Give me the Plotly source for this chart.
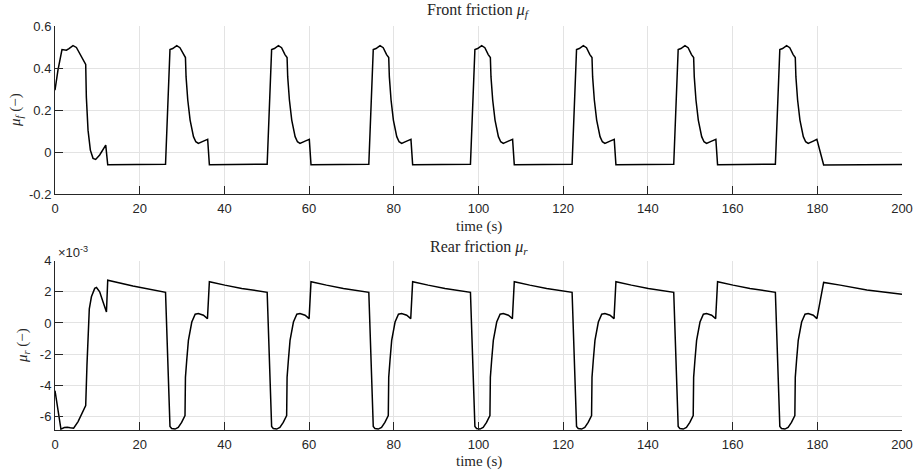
import plotly.graph_objects as go

# ---------------- data ----------------
# Front friction mu_f (-)
t_front = [
    0, 0.7, 1.65, 2.7, 3.3, 4.25, 5.05, 6.2, 7.25, 7.4, 7.8, 8.35, 8.98, 9.6, 10.55, 11.98, 12.45,
    26.1, 27.15, 27.8, 28.75, 29.5, 30.3, 30.8, 30.95, 31.35, 31.9, 32.7, 33.25, 33.85, 35.05, 36.05, 36.45,
    50.1, 51.15, 51.8, 52.75, 53.5, 54.3, 54.8, 54.95, 55.35, 55.9, 56.7, 57.25, 57.85, 59.05, 60.05, 60.45,
    74.1, 75.15, 75.8, 76.75, 77.5, 78.3, 78.8, 78.95, 79.35, 79.9, 80.7, 81.25, 81.85, 83.05, 84.05, 84.45,
    98.1, 99.15, 99.8, 100.75, 101.5, 102.3, 102.8, 102.95, 103.35, 103.9, 104.7, 105.25, 105.85, 107.05, 108.05, 108.45,
    122.1, 123.15, 123.8, 124.75, 125.5, 126.3, 126.8, 126.95, 127.35, 127.9, 128.7, 129.25, 129.85, 131.05, 132.05, 132.45,
    146.1, 147.15, 147.8, 148.75, 149.5, 150.3, 150.8, 150.95, 151.35, 151.9, 152.7, 153.25, 153.85, 155.05, 156.05, 156.45,
    170.1, 171.15, 171.8, 172.75, 173.5, 174.3, 174.8, 174.95, 175.35, 175.9, 176.7, 177.25, 177.85, 179.05, 179.9, 181.5,
    200,
]
mu_f = [
    0.295, 0.39, 0.488, 0.485, 0.493, 0.507, 0.498, 0.453, 0.417, 0.263, 0.105, 0.01, -0.029, -0.034, -0.013, 0.034, -0.06,
    -0.057, 0.488, 0.493, 0.507, 0.497, 0.464, 0.45, 0.358, 0.248, 0.153, 0.074, 0.05, 0.042, 0.053, 0.061, -0.06,
    -0.057, 0.488, 0.493, 0.507, 0.497, 0.464, 0.45, 0.358, 0.248, 0.153, 0.074, 0.05, 0.042, 0.053, 0.061, -0.06,
    -0.057, 0.488, 0.493, 0.507, 0.497, 0.464, 0.45, 0.358, 0.248, 0.153, 0.074, 0.05, 0.042, 0.053, 0.061, -0.06,
    -0.057, 0.488, 0.493, 0.507, 0.497, 0.464, 0.45, 0.358, 0.248, 0.153, 0.074, 0.05, 0.042, 0.053, 0.061, -0.06,
    -0.057, 0.488, 0.493, 0.507, 0.497, 0.464, 0.45, 0.358, 0.248, 0.153, 0.074, 0.05, 0.042, 0.053, 0.061, -0.06,
    -0.057, 0.488, 0.493, 0.507, 0.497, 0.464, 0.45, 0.358, 0.248, 0.153, 0.074, 0.05, 0.042, 0.053, 0.061, -0.06,
    -0.057, 0.488, 0.493, 0.507, 0.497, 0.464, 0.45, 0.358, 0.248, 0.153, 0.074, 0.05, 0.042, 0.053, 0.061, -0.061,
    -0.058,
]

# Rear friction mu_r (x 1e-3)
t_rear = [
    0, 1.4, 2.2, 2.9, 3.6, 4.4, 5.45, 6.6, 7.25, 7.55, 7.8, 8.1, 8.6, 9.38, 9.8, 10.55, 11.35, 12.15, 12.45, 18.4,
    26.1, 27.15, 27.55, 28.35, 29.1, 29.9, 30.7, 30.8, 31.1, 31.5, 32.3, 33.1, 33.85, 35.05, 36.0, 36.45, 40.1, 44.1,
    50.1, 51.15, 51.55, 52.35, 53.1, 53.9, 54.7, 54.8, 55.1, 55.5, 56.3, 57.1, 57.85, 59.05, 60.0, 60.45, 64.1, 68.1,
    74.1, 75.15, 75.55, 76.35, 77.1, 77.9, 78.7, 78.8, 79.1, 79.5, 80.3, 81.1, 81.85, 83.05, 84.0, 84.45, 88.1, 92.1,
    98.1, 99.15, 99.55, 100.35, 101.1, 101.9, 102.7, 102.8, 103.1, 103.5, 104.3, 105.1, 105.85, 107.05, 108.0, 108.45, 112.1, 116.1,
    122.1, 123.15, 123.55, 124.35, 125.1, 125.9, 126.7, 126.8, 127.1, 127.5, 128.3, 129.1, 129.85, 131.05, 132.0, 132.45, 136.1, 140.1,
    146.1, 147.15, 147.55, 148.35, 149.1, 149.9, 150.7, 150.8, 151.1, 151.5, 152.3, 153.1, 153.85, 155.05, 156.0, 156.45, 160.1, 164.1,
    170.1, 171.15, 171.55, 172.35, 173.1, 173.9, 174.7, 174.8, 175.1, 175.5, 176.3, 177.1, 177.85, 179.05, 179.9, 181.5, 185.4, 191.7,
    200,
]
mu_r = [
    -4.35, -6.82, -6.72, -6.7, -6.74, -6.77, -6.34, -5.74, -5.31, -2.7, -0.5, 0.9, 1.68, 2.22, 2.28, 2.0, 1.35, 0.71, 2.75, 2.37,
    1.97, -6.65, -6.78, -6.82, -6.71, -6.39, -5.95, -3.5, -2.41, -1.12, 0.06, 0.56, 0.6, 0.5, 0.28, 2.65, 2.43, 2.22,
    1.97, -6.65, -6.78, -6.82, -6.71, -6.39, -5.95, -3.5, -2.41, -1.12, 0.06, 0.56, 0.6, 0.5, 0.28, 2.65, 2.43, 2.22,
    1.97, -6.65, -6.78, -6.82, -6.71, -6.39, -5.95, -3.5, -2.41, -1.12, 0.06, 0.56, 0.6, 0.5, 0.28, 2.65, 2.43, 2.22,
    1.97, -6.65, -6.78, -6.82, -6.71, -6.39, -5.95, -3.5, -2.41, -1.12, 0.06, 0.56, 0.6, 0.5, 0.28, 2.65, 2.43, 2.22,
    1.97, -6.65, -6.78, -6.82, -6.71, -6.39, -5.95, -3.5, -2.41, -1.12, 0.06, 0.56, 0.6, 0.5, 0.28, 2.65, 2.43, 2.22,
    1.97, -6.65, -6.78, -6.82, -6.71, -6.39, -5.95, -3.5, -2.41, -1.12, 0.06, 0.56, 0.6, 0.5, 0.28, 2.65, 2.43, 2.22,
    1.97, -6.65, -6.78, -6.82, -6.71, -6.39, -5.95, -3.5, -2.41, -1.12, 0.06, 0.56, 0.6, 0.5, 0.28, 2.6, 2.43, 2.11,
    1.85,
]

x_ticks = [0, 20, 40, 60, 80, 100, 120, 140, 160, 180, 200]
x_ticktext = ["0", "20", "40", "60", "80", "100", "120", "140", "160", "180", "200"]
yf_ticks = [-0.2, 0, 0.2, 0.4, 0.6]
yf_ticktext = ["-0.2", "0", "0.2", "0.4", "0.6"]
yr_ticks = [-6, -4, -2, 0, 2, 4]
yr_ticktext = ["-6", "-4", "-2", "0", "2", "4"]

# ---------------- figure ----------------
AX = "#262626"
GRID = "#e3e3e3"
TICKFONT = dict(family="Liberation Sans, Arial, sans-serif", size=13, color=AX)
SERIF = "Liberation Serif, Times New Roman, serif"

fig = go.Figure()
fig.add_trace(go.Scatter(x=t_front, y=mu_f, mode="lines", line=dict(color="black", width=1.5),
                         xaxis="x", yaxis="y", showlegend=False))
fig.add_trace(go.Scatter(x=t_rear, y=mu_r, mode="lines", line=dict(color="black", width=1.5),
                         xaxis="x2", yaxis="y2", showlegend=False))

common_x = dict(range=[0, 200], tickvals=x_ticks, ticktext=x_ticktext, ticks="inside", ticklen=8,
                tickcolor=AX, showline=True, linecolor=AX, linewidth=1, showgrid=True, gridcolor=GRID,
                gridwidth=1, zeroline=False, tickfont=TICKFONT, domain=[0, 1], ticklabelstandoff=2,
                automargin=False)
common_y = dict(ticks="inside", ticklen=8, tickcolor=AX, showline=True, linecolor=AX, linewidth=1,
                showgrid=True, gridcolor=GRID, gridwidth=1, zeroline=False, tickfont=TICKFONT,
                automargin=False)

H_TOP, H_BOT = 26, 41
area_h = 471 - H_TOP - H_BOT
def py(pix):
    return (471 - H_BOT - pix) / area_h
def px(pix):
    return (pix - 55) / 847

fig.update_layout(
    width=918, height=471,
    margin=dict(l=55, r=16, t=H_TOP, b=H_BOT),
    paper_bgcolor="white", plot_bgcolor="white",
    xaxis=dict(anchor="y", **common_x),
    yaxis=dict(anchor="x", domain=[py(194.3), 1], range=[-0.2, 0.6], tickvals=yf_ticks,
               ticktext=yf_ticktext, **common_y),
    xaxis2=dict(anchor="y2", **common_x),
    yaxis2=dict(anchor="x2", domain=[0, py(260.7)], range=[-6.88, 4], tickvals=yr_ticks,
                ticktext=yr_ticktext, **common_y),
)

ann = [
    dict(text="Front friction <i>μ</i><sub><i>f</i></sub>", x=0.5, y=py(11), size=16),
    dict(text="time (s)", x=0.5, y=py(226), size=15),
    dict(text="Rear friction <i>μ</i><sub><i>r</i></sub>", x=0.5, y=py(247), size=16),
    dict(text="time (s)", x=0.5, y=py(461), size=15),
]
for a in ann:
    fig.add_annotation(text=a["text"], x=a["x"], y=a["y"], xref="paper", yref="paper",
                       showarrow=False, xanchor="center", yanchor="middle",
                       font=dict(family=SERIF, size=a["size"], color=AX))

fig.add_annotation(text="<i>μ</i><sub><i>f</i></sub> (−)", x=px(16), y=py(110), xref="paper", yref="paper",
                   showarrow=False, textangle=-90, xanchor="center", yanchor="middle",
                   font=dict(family=SERIF, size=15, color=AX))
fig.add_annotation(text="<i>μ</i><sub><i>r</i></sub> (−)", x=px(23), y=py(346), xref="paper", yref="paper",
                   showarrow=False, textangle=-90, xanchor="center", yanchor="middle",
                   font=dict(family=SERIF, size=15, color=AX))
fig.add_annotation(text="×10<sup>-3</sup>", x=px(56), y=py(252), xref="paper", yref="paper",
                   showarrow=False, xanchor="left", yanchor="middle",
                   font=dict(family="Liberation Sans, Arial, sans-serif", size=13, color=AX))

fig.write_html("out.html", config={"displayModeBar": False},
               post_script="document.body.style.margin='0';document.body.style.overflow='hidden';")
